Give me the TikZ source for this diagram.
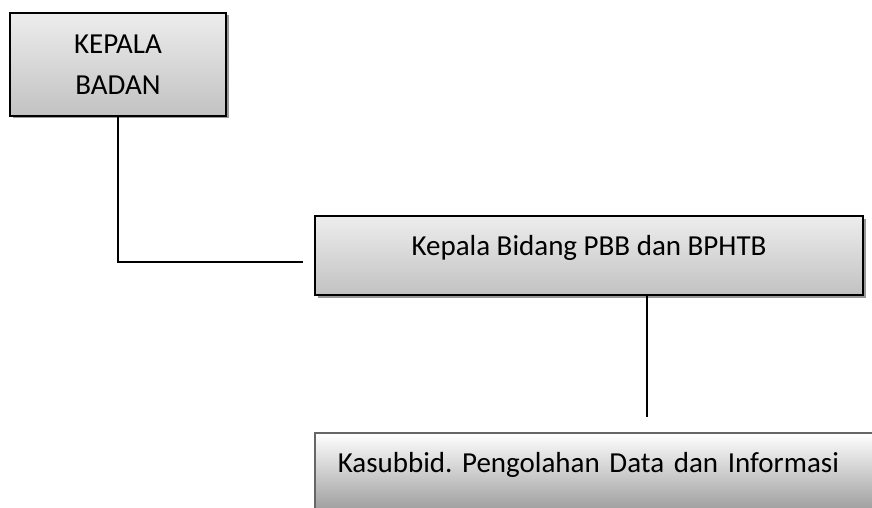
\documentclass[tikz,border=0pt]{standalone}
\usepackage{fontspec}
\setmainfont{Carlito}
\usetikzlibrary{shadows}
\frenchspacing

\begin{document}
\begin{tikzpicture}[x=1pt,y=-1pt,
	orgbox/.style={draw=black,line width=2pt,top color=black!7,bottom color=black!24,
		inner sep=0pt,font=\fontsize{29}{40.7}\selectfont,
		drop shadow={shadow xshift=2.5pt,shadow yshift=-2.5pt,fill=black!40,opacity=1}},
	subbox/.style={draw=black!60,line width=1.5pt,top color=white,bottom color=black!45,
		inner sep=0pt,font=\fontsize{29}{40.7}\selectfont},
	link/.style={line width=1.7pt}]

\useasboundingbox (0,0) rectangle (872,508);

\node[orgbox,minimum width=216pt,minimum height=103pt,align=center] (kepala) at (118,64.5) {KEPALA\\BADAN};

\node[orgbox,minimum width=548pt,minimum height=79pt,text height=20pt,text depth=20pt] (bidang) at (589,255.5) {Kepala Bidang PBB dan BPHTB};

\node[subbox,anchor=north west,inner xsep=23pt,text width=524pt,align=left,text height=40pt,text depth=52pt] (kasubbid) at (314,432) {Kasubbid. Pengolahan Data dan Informasi};

\coordinate (kepalaend) at (303,262);
\coordinate (bidangend) at (647,417);

\draw[link] (kepala.south) |- (kepalaend);
\draw[link] (bidangend |- bidang.south) -- (bidangend);

\end{tikzpicture}
\end{document}
